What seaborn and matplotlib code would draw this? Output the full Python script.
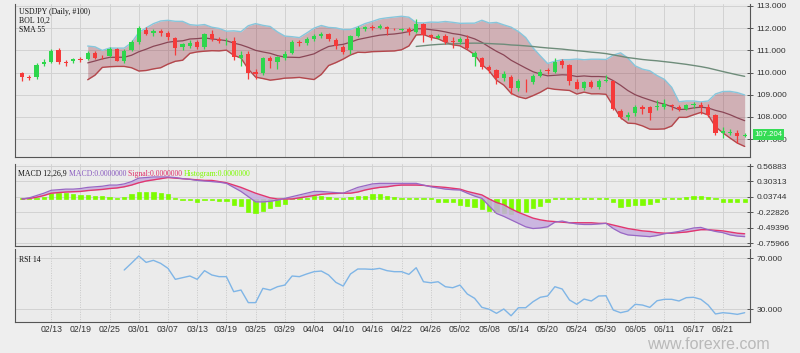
import numpy as np
import pandas as pd
import matplotlib
matplotlib.use("Agg")
import matplotlib.pyplot as plt
import seaborn as sns

# ---------------- data ----------------
dates = pd.bdate_range("2019-02-07", "2019-06-26")
date_labels = [d.strftime("%m/%d") for d in dates]

opens = [109.97, 109.80, 109.78, 110.38, 110.49, 111.02, 110.47, 110.50, 110.60, 110.60,
         110.88, 110.72, 110.76, 111.05, 110.53, 111.00, 111.39, 111.90, 111.76, 111.88,
         111.77, 111.55, 111.16, 111.21, 111.36, 111.16, 111.72, 111.51, 111.40, 111.42,
         110.67, 110.82, 110.04, 109.96, 110.67, 110.49, 110.64, 110.90, 111.39, 111.35,
         111.50, 111.66, 111.72, 111.47, 111.16, 111.00, 111.66, 111.96, 112.04, 112.02,
         112.07, 111.98, 111.92, 111.95, 111.84, 112.19, 111.67, 111.57, 111.65, 111.42,
         111.36, 111.51, 110.69, 110.64, 110.26, 110.11, 109.74, 109.81, 109.29, 109.63,
         109.59, 109.84, 110.11, 110.04, 110.53, 110.34, 109.59, 109.29, 109.56, 109.33,
         109.60, 109.62, 108.26, 108.00, 108.16, 108.46, 108.43, 108.44, 108.46, 108.52,
         108.46, 108.37, 108.55, 108.52, 108.43, 108.08, 107.26, 107.27, 107.29, 107.15]
highs = [110.04, 109.90, 110.45, 110.62, 111.05, 111.10, 110.56, 110.65, 110.70, 110.95,
         110.95, 110.80, 111.15, 111.10, 111.05, 111.45, 112.08, 112.05, 111.95, 111.95,
         111.85, 111.60, 111.35, 111.45, 111.45, 111.80, 111.90, 111.60, 111.55, 111.60,
         110.95, 110.95, 110.15, 110.70, 110.75, 110.75, 110.95, 111.45, 111.45, 111.60,
         111.75, 111.82, 111.80, 111.55, 111.25, 111.70, 112.08, 112.10, 112.15, 112.20,
         112.10, 112.03, 112.00, 112.05, 112.40, 112.25, 111.75, 111.72, 111.72, 111.60,
         111.60, 111.70, 110.95, 110.70, 110.35, 110.15, 110.05, 109.90, 109.70, 109.70,
         109.95, 110.15, 110.20, 110.67, 110.60, 110.40, 109.70, 109.60, 109.65, 109.70,
         109.90, 109.68, 108.35, 108.20, 108.55, 108.55, 108.50, 108.75, 108.80, 108.60,
         108.55, 108.60, 108.65, 108.65, 108.60, 108.15, 107.55, 107.45, 107.40, 107.25]
lows = [109.62, 109.66, 109.72, 110.30, 110.42, 110.40, 110.28, 110.45, 110.48, 110.55,
        110.60, 110.62, 110.70, 110.50, 110.45, 110.95, 111.30, 111.70, 111.65, 111.65,
        111.45, 110.78, 111.00, 111.10, 111.05, 111.05, 111.40, 111.35, 111.25, 110.55,
        110.30, 109.72, 109.70, 109.90, 110.20, 110.15, 110.55, 110.85, 111.20, 111.25,
        111.40, 111.55, 111.40, 111.05, 110.85, 110.85, 111.60, 111.85, 111.90, 111.95,
        111.70, 111.90, 111.88, 111.70, 111.80, 111.39, 111.45, 111.50, 111.30, 111.10,
        111.30, 111.05, 110.30, 110.15, 110.00, 109.47, 109.60, 109.02, 109.15, 109.10,
        109.50, 109.80, 109.95, 109.98, 110.20, 109.45, 109.25, 109.20, 109.30, 109.25,
        109.55, 108.30, 107.90, 107.85, 108.05, 108.15, 107.85, 108.30, 108.35, 108.30,
        108.25, 108.30, 108.40, 108.15, 108.00, 107.20, 107.05, 107.20, 106.80, 107.10]
closes = [109.80, 109.75, 110.36, 110.48, 110.99, 110.48, 110.42, 110.60, 110.57, 110.89,
          110.66, 110.69, 111.05, 110.53, 110.99, 111.39, 111.99, 111.75, 111.89, 111.77,
          111.62, 111.10, 111.27, 111.35, 111.16, 111.72, 111.51, 111.43, 111.42, 110.71,
          110.80, 109.96, 109.93, 110.64, 110.53, 110.69, 110.83, 111.36, 111.32, 111.50,
          111.65, 111.72, 111.50, 111.20, 110.94, 111.66, 112.02, 112.04, 112.00, 112.11,
          111.96, 111.95, 111.94, 111.84, 112.19, 111.69, 111.60, 111.65, 111.39, 111.36,
          111.50, 111.09, 110.87, 110.26, 110.11, 109.74, 109.93, 109.29, 109.62, 109.61,
          109.84, 110.04, 110.08, 110.49, 110.34, 109.62, 109.26, 109.56, 109.35, 109.62,
          109.66, 108.35, 108.00, 108.10, 108.46, 108.36, 108.16, 108.47, 108.57, 108.48,
          108.35, 108.52, 108.58, 108.43, 108.08, 107.29, 107.36, 107.31, 107.15, 107.204]

# MACD 12,26,9 panel
macd_line = [0.00, 0.02, 0.06, 0.10, 0.15, 0.16, 0.17, 0.17, 0.18, 0.20,
             0.21, 0.22, 0.24, 0.24, 0.26, 0.30, 0.36, 0.37, 0.38, 0.38,
             0.38, 0.37, 0.35, 0.34, 0.32, 0.31, 0.30, 0.29, 0.27, 0.20,
             0.13, 0.04, -0.05, -0.05, -0.04, -0.02, 0.01, 0.04, 0.07, 0.10,
             0.13, 0.13, 0.12, 0.11, 0.10, 0.15, 0.20, 0.23, 0.26, 0.27,
             0.27, 0.27, 0.27, 0.27, 0.27, 0.24, 0.21, 0.19, 0.17, 0.16,
             0.155, 0.10, 0.05, 0.01, -0.12, -0.25, -0.30, -0.36, -0.42, -0.48,
             -0.51, -0.50, -0.48, -0.40, -0.38, -0.41, -0.43, -0.44, -0.44, -0.43,
             -0.42, -0.51, -0.58, -0.62, -0.63, -0.64, -0.65, -0.63, -0.60, -0.58,
             -0.56, -0.53, -0.50, -0.49, -0.53, -0.56, -0.58, -0.62, -0.64, -0.65]
signal_line = [0.00, 0.01, 0.03, 0.06, 0.10, 0.11, 0.12, 0.125, 0.13, 0.145,
               0.155, 0.165, 0.18, 0.19, 0.21, 0.24, 0.28, 0.31, 0.33, 0.35,
               0.37, 0.36, 0.35, 0.34, 0.33, 0.32, 0.32, 0.30, 0.28, 0.24,
               0.20, 0.15, 0.10, 0.06, 0.02, 0.00, 0.00, 0.00, 0.02, 0.04,
               0.06, 0.08, 0.09, 0.095, 0.10, 0.10, 0.12, 0.155, 0.18, 0.20,
               0.21, 0.23, 0.24, 0.24, 0.24, 0.235, 0.22, 0.21, 0.20, 0.185,
               0.17, 0.13, 0.10, 0.07, 0.00, -0.06, -0.10, -0.17, -0.23, -0.28,
               -0.33, -0.36, -0.38, -0.39, -0.40, -0.41, -0.41, -0.41, -0.41, -0.42,
               -0.42, -0.45, -0.48, -0.51, -0.53, -0.55, -0.56, -0.58, -0.59, -0.59,
               -0.58, -0.57, -0.55, -0.53, -0.53, -0.54, -0.55, -0.57, -0.59, -0.60]
histogram = [0.02, 0.02, 0.02, 0.04, 0.10, 0.11, 0.10, 0.08, 0.07, 0.07,
             0.06, 0.05, 0.04, 0.02, 0.04, 0.08, 0.115, 0.115, 0.115, 0.10,
             0.08, 0.02, -0.02, -0.02, -0.05, -0.02, -0.02, -0.03, -0.03, -0.10,
             -0.12, -0.22, -0.24, -0.20, -0.16, -0.12, -0.09, 0.02, 0.02, 0.02,
             0.06, 0.06, 0.04, 0.02, 0.02, 0.04, 0.05, 0.06, 0.08, 0.08,
             0.05, 0.04, 0.02, 0.02, 0.02, 0.02, 0.02, -0.05, -0.06, -0.06,
             -0.10, -0.12, -0.13, -0.17, -0.20, -0.22, -0.24, -0.26, -0.23, -0.22,
             -0.16, -0.12, -0.06, 0.02, 0.02, 0.02, 0.02, 0.02, 0.02, 0.02,
             0.02, -0.06, -0.13, -0.12, -0.11, -0.10, -0.08, -0.05, 0.02, 0.02,
             0.02, 0.04, 0.05, 0.06, 0.03, 0.02, -0.05, -0.05, -0.06, -0.05]
# RSI 14 (first 14 bars have no value)
rsi_values = [None] * 14 + [
    60.6, 66.0, 71.6, 66.6, 68.2, 65.8, 61.9, 53.3, 54.6, 55.9,
    53.3, 60.1, 56.7, 55.4, 55.4, 43.6, 44.9, 35.0, 35.0, 46.2,
    44.9, 47.5, 48.8, 55.9, 55.4, 57.5, 59.3, 59.8, 56.7, 50.9,
    48.0, 57.5, 61.4, 61.4, 61.1, 61.9, 60.1, 59.3, 59.3, 57.2,
    62.4, 51.4, 50.6, 51.4, 47.5, 46.7, 48.8, 41.8, 38.4, 31.3,
    29.8, 26.6, 30.0, 24.7, 31.0, 31.0, 35.7, 39.2, 40.2, 47.5,
    45.7, 37.1, 33.7, 37.8, 36.3, 40.2, 40.4, 29.2, 27.1, 28.4,
    33.7, 33.1, 31.3, 36.5, 37.6, 37.6, 36.3, 38.9, 39.2, 37.6,
    33.1, 26.1, 27.1, 26.6, 25.8, 27.1]

price_ticks = [107, 108, 109, 110, 111, 112, 113]
macd_ticks = [0.56883, 0.30313, 0.03744, -0.22826, -0.49396, -0.75966]
macd_tick_labels = ["0.56883", "0.30313", "0.03744", "-0.22826", "-0.49396", "-0.75966"]
rsi_ticks = [70, 30]
xtick_idx = list(range(4, 100, 4))

# ---------------- frame + overlays (BOL 10,2 / SMA 55) ----------------
df = pd.DataFrame({"x": np.arange(len(closes)), "open": opens, "high": highs,
                   "low": lows, "close": closes, "macd": macd_line,
                   "signal": signal_line, "hist": histogram,
                   "rsi": pd.array(rsi_values, dtype="Float64").astype(float)})
c = df["close"]
df["mid"] = c.rolling(10).mean()
sd = c.rolling(10).std(ddof=0)
df["upper"] = df["mid"] + 2 * sd
df["lower"] = df["mid"] - 2 * sd
df["sma55"] = c.rolling(55).mean()

# ---------------- style ----------------
sns.set_theme(style="whitegrid")
plt.rcParams["font.family"] = ["Liberation Sans", "DejaVu Sans"]
BG = "#ebebeb"
GRID = "#d2d2d2"
SPINE = "#555555"
GREEN = "#2ed64c"
RED = "#f53a3a"

fig = plt.figure(figsize=(8.0, 3.53), dpi=100, facecolor="#eeeeee")
W, H = 800.0, 353.0
def rect(l, t, r, b):
    return [l / W, 1 - b / H, (r - l) / W, (b - t) / H]

ax1 = fig.add_axes(rect(15, 4, 750, 157))
ax2 = fig.add_axes(rect(15, 164, 750, 246), sharex=ax1)
ax3 = fig.add_axes(rect(15, 249, 750, 322), sharex=ax1)

for ax in (ax1, ax2, ax3):
    ax.set_facecolor(BG)
    ax.grid(True, color=GRID, lw=0.7)
    ax.spines["top"].set_visible(False)
    for s in ("left", "right", "bottom"):
        ax.spines[s].set_visible(True)
        ax.spines[s].set_color(SPINE)
        ax.spines[s].set_linewidth(0.8)
    ax.yaxis.tick_right()
    ax.tick_params(axis="y", direction="inout", length=5, width=0.7, color=SPINE,
                   labelsize=6, labelcolor="#333333", pad=2)
    ax.tick_params(axis="x", direction="out", length=2, width=0.7, color=SPINE,
                   labelsize=6.3, labelcolor="#333333", pad=0.5)

ax3.grid(True, axis="x", color="#c8c8c8", lw=0.7, ls=(0, (1, 1.5)))

x = df["x"].values

# ---- main panel ----
ax1.fill_between(x, df["upper"], df["lower"], color="#8b1a2b", alpha=0.28, lw=0, zorder=1)
sns.lineplot(data=df, x="x", y="upper", ax=ax1, color="#86c6dc", lw=1.0, zorder=2)
sns.lineplot(data=df, x="x", y="lower", ax=ax1, color="#b4474c", lw=1.0, zorder=2)
sns.lineplot(data=df, x="x", y="mid", ax=ax1, color="#8a4656", lw=0.9, zorder=2)
sns.lineplot(data=df, x="x", y="sma55", ax=ax1, color="#6e8c7a", lw=1.0, zorder=2)

o = np.array(opens); cl = np.array(closes)
cols = np.where(cl >= o, GREEN, RED)
ax1.vlines(x, lows, highs, colors=cols, lw=0.9, zorder=3)
body_h = np.maximum(np.abs(cl - o), 0.03)
ax1.bar(x, body_h, bottom=np.minimum(o, cl), width=0.58, color=cols, lw=0, zorder=4)

ax1.set_ylim(106.19, 113.09)
ax1.set_yticks(price_ticks)
ax1.set_yticklabels([f"{v:.3f}" for v in price_ticks])
ax1.tick_params(axis="x", labelbottom=False)

last = closes[-1]
ax1.annotate(f"{last:.3f}", xy=(1.0, last), xycoords=("axes fraction", "data"),
             xytext=(3, 0), textcoords="offset points", va="center", ha="left",
             fontsize=5.6, color="white",
             bbox=dict(boxstyle="square,pad=0.2", fc="#35dc55", ec="none"),
             annotation_clip=False, zorder=10)

tfont = dict(family=["Liberation Serif", "DejaVu Serif"], fontsize=5.6, color="#111111")
ax1.text(0.005, 0.975, "USDJPY (Daily, #100)", transform=ax1.transAxes, va="top", **tfont)
ax1.text(0.005, 0.915, "BOL 10,2", transform=ax1.transAxes, va="top", **tfont)
ax1.text(0.005, 0.855, "SMA 55", transform=ax1.transAxes, va="top", **tfont)

# ---- MACD panel ----
ax2.bar(x, df["hist"], width=0.58, color="#7dfc00", edgecolor="#7dfc00", lw=0.5, zorder=2)
ax2.fill_between(x, df["macd"], df["signal"], color="#c6addf", alpha=0.85, lw=0, zorder=3)
sns.lineplot(data=df, x="x", y="signal", ax=ax2, color="#e2366e", lw=1.0, zorder=4)
sns.lineplot(data=df, x="x", y="macd", ax=ax2, color="#9867c4", lw=0.9, zorder=5)
ax2.set_ylim(-0.811, 0.6034)
ax2.set_yticks(macd_ticks)
ax2.set_yticklabels(macd_tick_labels)
ax2.tick_params(axis="x", labelbottom=False)

parts = [("MACD 12,26,9 ", "#111111"), ("MACD:0.0000000 ", "#8a5cc0"),
         ("Signal:0.0000000 ", "#e0306a"), ("Histogram:0.0000000", "#7dfc00")]
xpos = 0.004
fig.canvas.draw()
for txt, colr in parts:
    t = ax2.text(xpos, 0.93, txt, transform=ax2.transAxes, va="top",
                 family=["Liberation Serif", "DejaVu Serif"], fontsize=5.6, color=colr)
    fig.canvas.draw()
    xpos += t.get_window_extent().width / ax2.get_window_extent().width

# ---- RSI panel ----
sns.lineplot(data=df, x="x", y="rsi", ax=ax3, color="#7fb5e6", lw=1.0, zorder=3)
ax3.set_ylim(19.8, 77.1)
ax3.set_yticks(rsi_ticks)
ax3.set_yticklabels([f"{v:.3f}" for v in rsi_ticks])
ax3.text(0.005, 0.9, "RSI 14", transform=ax3.transAxes, va="top", **tfont)

ax3.set_xticks(xtick_idx)
ax3.set_xticklabels([date_labels[i] for i in xtick_idx])
ax3.set_xlim(-0.96, 99.73)
for ax in (ax1, ax2, ax3):
    ax.set_xlabel("")
    ax.set_ylabel("")

fig.text(0.885, 1.0 / H, "www.forexre.com", ha="center", va="bottom",
         fontsize=11.5, color="#b9b9b9", family=["Liberation Sans", "DejaVu Sans"])

fig.savefig("out.png", dpi=100, facecolor=fig.get_facecolor())
